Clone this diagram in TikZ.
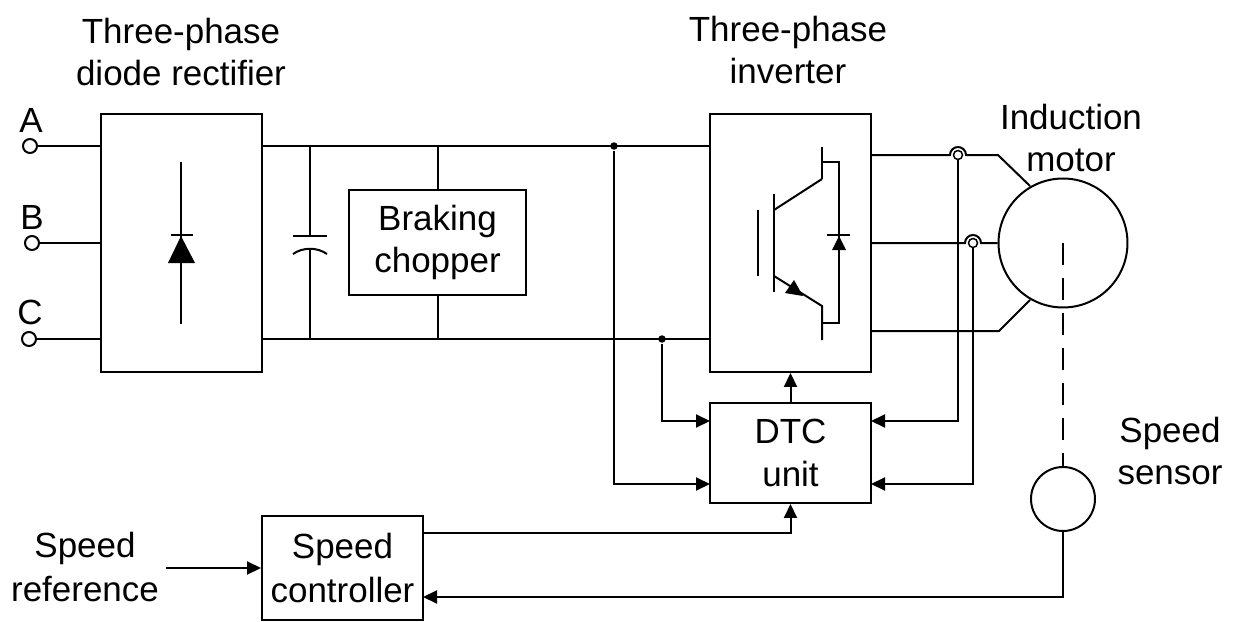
\documentclass[tikz,border=0pt]{standalone}
\usepackage{fontspec}
\setmainfont{Liberation Sans}
\usetikzlibrary{arrows.meta}
\begin{document}
\begin{tikzpicture}[x=0.02cm, y=0.02cm, line width=0.04cm, >={Triangle[length=0.28cm,width=0.26cm]}]
\tikzstyle{every node}+=[inner sep=0pt, font=\fontsize{19.9}{24.2}\selectfont, align=center]
\tikzstyle{block}=[draw, minimum width=3.22cm, minimum height=5.16cm]
\tikzstyle{smallblock}=[draw, minimum width=3.22cm, minimum height=2.04cm]
\tikzstyle{terminal}=[draw, circle, fill=white, minimum size=0.28cm]
\tikzstyle{pickup}=[draw, circle, fill=white, minimum size=0.18cm, line width=0.03cm]
\tikzstyle{junction}=[fill, circle, minimum size=0.15cm]
\useasboundingbox (0,0) rectangle (1238,-622);
\node [block] (rectifier) at (181.5,-243) {};
\node [block] (inverter) at (790.5,-243) {};
\node [draw, minimum width=3.54cm, minimum height=2.1cm] (chopper) at (437.5,-242.5) {Braking\\chopper};
\node [smallblock, minimum height=2cm] (dtc) at (790.5,-453) {DTC\\unit};
\node [smallblock, minimum height=2.08cm] (controller) at (342.5,-568) {Speed\\[0.04cm]controller};
\node [draw, circle, minimum size=2.58cm] (motor) at (1063,-243) {};
\node [draw, circle, minimum size=1.28cm] (sensor) at (1063,-499) {};
\node [terminal] (termA) at (30,-146) {};
\node [terminal] (termB) at (32,-243) {};
\node [terminal] (termC) at (29,-339) {};
\node (labelA) at (31,-120) {A};
\node (labelB) at (32,-217) {B};
\node (labelC) at (30,-312) {C};
\node (rectifiertext) at (181,-52) {Three-phase\\diode rectifier};
\node (invertertext) at (788,-50) {Three-phase\\inverter};
\node (motortext) at (1071,-138) {Induction\\motor};
\node (sensortext) at (1170,-451) {Speed\\sensor};
\node (referencetext) at (85,-567) {Speed\\[0.04cm]reference};
% supply side
\draw (termA) -- (rectifier.west |- termA);
\draw (termB) -- (rectifier.west |- termB);
\draw (termC) -- (rectifier.west |- termC);
\coordinate (top1) at (rectifier.east |- termA);
\coordinate (top2) at (inverter.west |- termA);
\coordinate (bot1) at (rectifier.east |- termC);
\coordinate (bot2) at (inverter.west |- termC);
\draw (top1) -- (top2);
\draw (bot1) -- (bot2);
\draw (chopper.north) -- (chopper.north |- top1);
\draw (chopper.south) -- (chopper.south |- bot1);
\node [junction] (jtop) at (614,-146) {};
\node [junction] (jbot) at (662,-339) {};
% diode in rectifier
\draw (181,-162) -- (181,-324);
\draw (171,-235) -- (193,-235);
\fill (181,-236) -- (168,-263) -- (195,-263) -- cycle;
% capacitor
\draw (310,-146) -- (310,-236);
\draw (293,-236) -- (327,-236);
\draw (293,-254) .. controls (303,-247) and (317,-247) .. (327,-254);
\draw (310,-249) -- (310,-339);
% igbt in inverter
\draw (758,-210) -- (758,-276);
\draw (774,-194) -- (774,-292);
\draw (774,-210) -- (822,-179);
\draw (822,-147) -- (822,-179);
\draw (822,-162) -- (839,-162) -- (839,-323) -- (822,-323);
\draw (774,-276) -- (822,-306) -- (822,-340);
\fill (803,-296) -- (785,-293) -- (794,-280) -- cycle;
\draw (827,-235) -- (850,-235);
\fill (839,-236) -- (832,-250) -- (846,-250) -- cycle;
% motor wires
\node [pickup] (pickup1) at (958,-155) {};
\node [pickup] (pickup2) at (973,-243) {};
\draw (871,-155) -- (950,-155) arc (180:0:8) -- (998,-155) -- (1030,-186);
\draw (871,-243) -- (965,-243) arc (180:0:8) -- (motor.west);
\draw (871,-331) -- (999,-331) -- (1030,-300);
% feedback
\draw [->] (jbot) |- (710,-421);
\draw [->] (jtop) |- (710,-484);
\draw [->] (dtc.north) -- (inverter.south);
\draw [->] (pickup1) |- (871,-421);
\draw [->] (pickup2) |- (871,-484);
\draw [->] (423,-533) -| (dtc.south);
\draw [->] (sensor.south) |- (423,-597);
\draw [dash pattern=on 0.44cm off 0.26cm] (motor.center) -- (sensor.north);
\draw [->] (referencetext.east |- controller) ++(6,0) -- (controller.west);
\end{tikzpicture}
\end{document}
